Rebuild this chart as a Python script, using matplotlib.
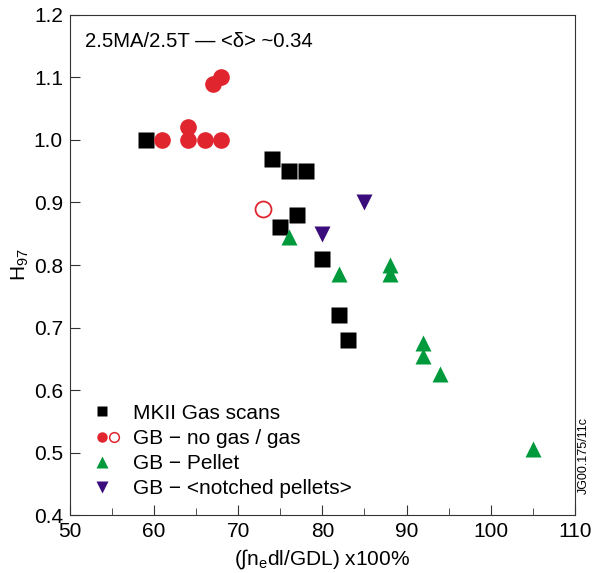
import matplotlib
matplotlib.use("Agg")
import matplotlib.pyplot as plt
from matplotlib.legend_handler import HandlerTuple
from matplotlib.lines import Line2D
from matplotlib.ticker import MultipleLocator

plt.rcParams['font.family'] = ['Liberation Sans', 'DejaVu Sans']
plt.rcParams['mathtext.fontset'] = 'custom'
plt.rcParams['mathtext.rm'] = 'Liberation Sans'

# MKII gas scans
gas_x = [59, 74, 76, 78, 77, 75, 80, 82, 83]
gas_y = [1.00, 0.97, 0.95, 0.95, 0.88, 0.86, 0.81, 0.72, 0.68]

# GB no gas (filled) / gas (open)
nogas_x = [61, 64, 64, 66, 68, 67, 68]
nogas_y = [1.00, 1.00, 1.02, 1.00, 1.00, 1.09, 1.10]
withgas_x = [73]
withgas_y = [0.89]

# GB pellet
pellet_x = [76, 82, 88, 88, 92, 92, 94, 105]
pellet_y = [0.845, 0.785, 0.80, 0.785, 0.675, 0.655, 0.625, 0.505]

# GB notched pellets
notch_x = [80, 85]
notch_y = [0.85, 0.90]

red = '#e1252f'
green = '#009a3d'
purple = '#3b0c7c'

fig = plt.figure(figsize=(5.97, 5.73), dpi=100)
ax = fig.add_axes([0.117, 0.101, 0.846, 0.873])

ax.plot(gas_x, gas_y, 's', color='black', ms=11, mec='none')
ax.plot(nogas_x, nogas_y, 'o', color=red, ms=12, mec='none')
ax.plot(withgas_x, withgas_y, 'o', mfc='none', mec=red, mew=1.3, ms=11.5)
ax.plot(pellet_x, pellet_y, '^', color=green, ms=12, mec='none')
ax.plot(notch_x, notch_y, 'v', color=purple, ms=12, mec='none')

ax.set_xlim(50, 110)
ax.set_ylim(0.4, 1.2)
ax.xaxis.set_major_locator(MultipleLocator(10))
ax.xaxis.set_minor_locator(MultipleLocator(5))
ax.yaxis.set_major_locator(MultipleLocator(0.1))
ax.yaxis.set_major_formatter(matplotlib.ticker.FormatStrFormatter('%.1f'))
ax.tick_params(which='both', direction='in', labelsize=15, color='#333333')
ax.tick_params(which='major', length=7)
ax.tick_params(which='minor', length=5)
ax.tick_params(axis='x', pad=5)
ax.tick_params(axis='y', pad=5)
for s in ax.spines.values():
    s.set_color('#333333')

ax.set_xlabel('(∫n$_\\mathregular{e}$dl/GDL) x100%', fontsize=15, labelpad=4)
ax.set_ylabel('H$_\\mathregular{97}$', fontsize=15, labelpad=2)

ax.text(0.03, 0.965, '2.5MA/2.5T — <δ> ~0.34', transform=ax.transAxes,
        fontsize=14.6, va='top', ha='left')
fig.text(0.978, 0.205, 'JG00.175/11c', rotation=90, fontsize=9, ha='center', va='center')

blank = Line2D([], [], ls='none', marker='none')
h_sq = Line2D([], [], ls='none', marker='s', color='black', ms=7, mec='none')
h_c1 = Line2D([], [], ls='none', marker='o', color=red, ms=7.5, mec='none')
h_c2 = Line2D([], [], ls='none', marker='o', mfc='none', mec=red, mew=1.1, ms=7)
h_up = Line2D([], [], ls='none', marker='^', color=green, ms=8, mec='none')
h_dn = Line2D([], [], ls='none', marker='v', color=purple, ms=8, mec='none')
ax.legend([(h_sq, blank), (h_c1, h_c2), (h_up, blank), (h_dn, blank)],
          ['MKII Gas scans', 'GB \u2212 no gas / gas', 'GB \u2212 Pellet',
           'GB \u2212 <notched pellets>'],
          handler_map={tuple: HandlerTuple(ndivide=None, pad=0.19)},
          loc='lower left', bbox_to_anchor=(0.019, -0.004), frameon=False,
          fontsize=15, handlelength=0.96, handletextpad=0.72, labelspacing=0.3)

fig.savefig('out.png', dpi=100)
